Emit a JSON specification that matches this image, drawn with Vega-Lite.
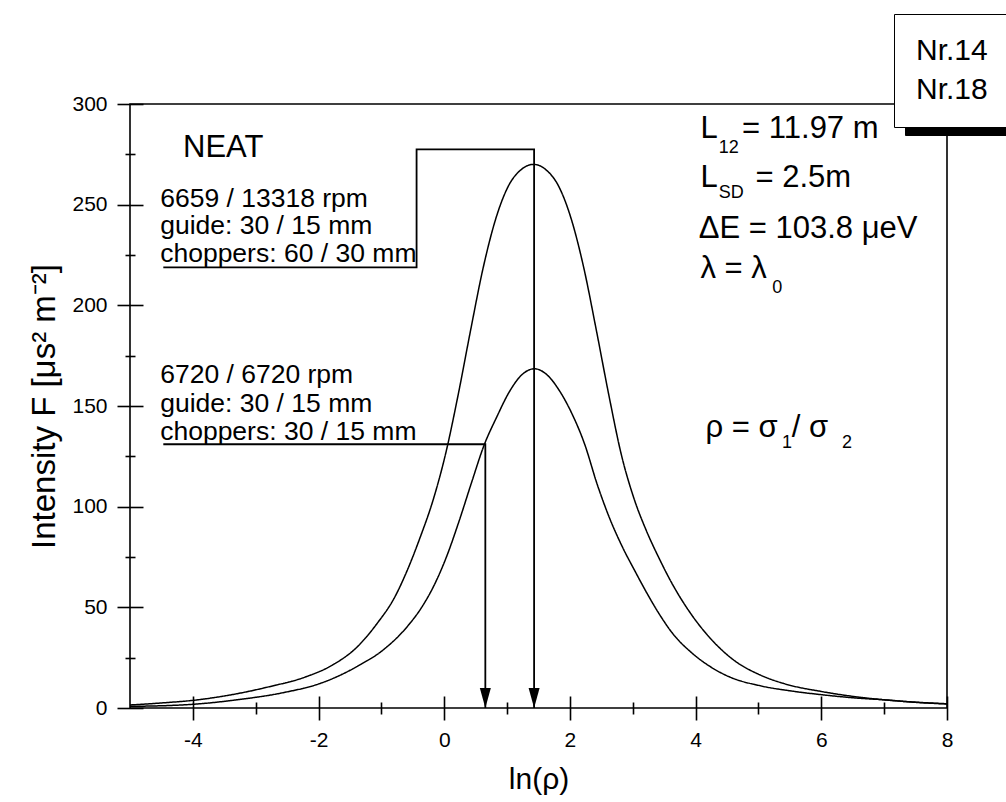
{
  "$schema": "https://vega.github.io/schema/vega-lite/v6.json",
  "width": 817,
  "height": 604,
  "autosize": {"type": "none"},
  "padding": {"left": 130, "top": 104, "right": 59, "bottom": 94},
  "background": "white",
  "config": {
    "view": {"stroke": "black", "strokeWidth": 1.6},
    "font": "Liberation Sans",
    "axis": {"grid": false, "labelFont": "Liberation Sans", "titleFont": "Liberation Sans", "labelColor": "black", "titleColor": "black", "tickColor": "black", "domainColor": "black", "titleFontWeight": "normal", "labelFontSize": 21}
  },
  "datasets": {
    "curves": [
      {"s": "Nr.14", "x": -5, "y": 1.5}, {"s": "Nr.14", "x": -4.5, "y": 2.5}, {"s": "Nr.14", "x": -3.94, "y": 4}, {"s": "Nr.14", "x": -3.4, "y": 6.5},
      {"s": "Nr.14", "x": -2.78, "y": 10.6}, {"s": "Nr.14", "x": -2.2, "y": 15.5}, {"s": "Nr.14", "x": -1.78, "y": 21.3}, {"s": "Nr.14", "x": -1.38, "y": 30.5},
      {"s": "Nr.14", "x": -1.08, "y": 41.5}, {"s": "Nr.14", "x": -0.78, "y": 55.5}, {"s": "Nr.14", "x": -0.58, "y": 69}, {"s": "Nr.14", "x": -0.38, "y": 85},
      {"s": "Nr.14", "x": -0.18, "y": 103}, {"s": "Nr.14", "x": 0.02, "y": 126}, {"s": "Nr.14", "x": 0.22, "y": 155.3}, {"s": "Nr.14", "x": 0.42, "y": 187.7},
      {"s": "Nr.14", "x": 0.62, "y": 218.7}, {"s": "Nr.14", "x": 0.82, "y": 243}, {"s": "Nr.14", "x": 1.02, "y": 259.2}, {"s": "Nr.14", "x": 1.22, "y": 267.3},
      {"s": "Nr.14", "x": 1.42, "y": 270}, {"s": "Nr.14", "x": 1.62, "y": 267.3}, {"s": "Nr.14", "x": 1.82, "y": 259.2}, {"s": "Nr.14", "x": 2.02, "y": 243},
      {"s": "Nr.14", "x": 2.22, "y": 218.7}, {"s": "Nr.14", "x": 2.42, "y": 187.7}, {"s": "Nr.14", "x": 2.62, "y": 155.3}, {"s": "Nr.14", "x": 2.82, "y": 125.6},
      {"s": "Nr.14", "x": 3.02, "y": 104}, {"s": "Nr.14", "x": 3.22, "y": 87.8}, {"s": "Nr.14", "x": 3.42, "y": 74.3}, {"s": "Nr.14", "x": 3.62, "y": 62.1},
      {"s": "Nr.14", "x": 3.92, "y": 47}, {"s": "Nr.14", "x": 4.22, "y": 35.1}, {"s": "Nr.14", "x": 4.62, "y": 23.5}, {"s": "Nr.14", "x": 5.02, "y": 16.5},
      {"s": "Nr.14", "x": 5.42, "y": 12}, {"s": "Nr.14", "x": 6.02, "y": 8.1}, {"s": "Nr.14", "x": 6.52, "y": 5.7}, {"s": "Nr.14", "x": 7.02, "y": 4},
      {"s": "Nr.14", "x": 7.5, "y": 2.9}, {"s": "Nr.14", "x": 8, "y": 2.1},
      {"s": "Nr.18", "x": -5, "y": 0.8}, {"s": "Nr.18", "x": -4.065, "y": 1.7}, {"s": "Nr.18", "x": -3.265, "y": 4.2}, {"s": "Nr.18", "x": -2.565, "y": 7.6},
      {"s": "Nr.18", "x": -1.965, "y": 12.3}, {"s": "Nr.18", "x": -1.365, "y": 21}, {"s": "Nr.18", "x": -0.965, "y": 29}, {"s": "Nr.18", "x": -0.565, "y": 41.3},
      {"s": "Nr.18", "x": -0.365, "y": 49.7}, {"s": "Nr.18", "x": -0.165, "y": 60.7}, {"s": "Nr.18", "x": 0.035, "y": 75}, {"s": "Nr.18", "x": 0.235, "y": 92.7},
      {"s": "Nr.18", "x": 0.435, "y": 112}, {"s": "Nr.18", "x": 0.635, "y": 130.6}, {"s": "Nr.18", "x": 0.835, "y": 144.5}, {"s": "Nr.18", "x": 1.035, "y": 157},
      {"s": "Nr.18", "x": 1.235, "y": 165.5}, {"s": "Nr.18", "x": 1.435, "y": 168.5}, {"s": "Nr.18", "x": 1.635, "y": 165.5}, {"s": "Nr.18", "x": 1.835, "y": 157.5},
      {"s": "Nr.18", "x": 2.035, "y": 146}, {"s": "Nr.18", "x": 2.235, "y": 131}, {"s": "Nr.18", "x": 2.435, "y": 111}, {"s": "Nr.18", "x": 2.635, "y": 94},
      {"s": "Nr.18", "x": 2.835, "y": 80}, {"s": "Nr.18", "x": 3.035, "y": 68}, {"s": "Nr.18", "x": 3.235, "y": 56.5}, {"s": "Nr.18", "x": 3.435, "y": 46},
      {"s": "Nr.18", "x": 3.635, "y": 37}, {"s": "Nr.18", "x": 3.935, "y": 27.5}, {"s": "Nr.18", "x": 4.235, "y": 20.5}, {"s": "Nr.18", "x": 4.535, "y": 15.5},
      {"s": "Nr.18", "x": 5.035, "y": 11}, {"s": "Nr.18", "x": 5.535, "y": 8.4}, {"s": "Nr.18", "x": 6.035, "y": 6.5}, {"s": "Nr.18", "x": 6.535, "y": 5},
      {"s": "Nr.18", "x": 7.035, "y": 4}, {"s": "Nr.18", "x": 7.5, "y": 2.8}, {"s": "Nr.18", "x": 8, "y": 2}
    ],
    "paths": [
      {"p": "a", "o": 1, "x": -4.47, "y": 218.9}, {"p": "a", "o": 2, "x": -0.44, "y": 218.9}, {"p": "a", "o": 3, "x": -0.44, "y": 277.5},
      {"p": "a", "o": 4, "x": 1.43, "y": 277.5}, {"p": "a", "o": 5, "x": 1.43, "y": 0},
      {"p": "b", "o": 1, "x": -4.47, "y": 131}, {"p": "b", "o": 2, "x": 0.654, "y": 131}, {"p": "b", "o": 3, "x": 0.654, "y": 0}
    ],
    "arrows": [{"x": 0.654, "y": 0}, {"x": 1.43, "y": 0}],
    "leftText": [
      {"t": "6659 / 13318 rpm", "x": -4.52, "y": 249.0},
      {"t": "guide: 30 / 15 mm", "x": -4.52, "y": 235.4},
      {"t": "choppers: 60 / 30 mm", "x": -4.52, "y": 221.7},
      {"t": "6720 / 6720 rpm", "x": -4.52, "y": 161.3},
      {"t": "guide: 30 / 15 mm", "x": -4.52, "y": 147.2},
      {"t": "choppers: 30 / 15 mm", "x": -4.52, "y": 133.1}
    ],
    "title": [{"t": "NEAT", "x": -4.156, "y": 273.8}],
    "rightText": [
      {"t": "L", "x": 4.076, "y": 283.0},
      {"t": "= 11.97 m", "x": 4.74, "y": 283.0},
      {"t": "L", "x": 4.076, "y": 258.9},
      {"t": "= 2.5m", "x": 4.952, "y": 258.9},
      {"t": "ΔE = 103.8 μeV", "x": 4.05, "y": 233.3},
      {"t": "λ = λ", "x": 4.076, "y": 213.4},
      {"t": "ρ = σ", "x": 4.156, "y": 134.8},
      {"t": "/ σ", "x": 5.53, "y": 134.8}
    ],
    "subText": [
      {"t": "12", "x": 4.368, "y": 275.5},
      {"t": "SD", "x": 4.368, "y": 253.2},
      {"t": "0", "x": 5.218, "y": 206.3},
      {"t": "1", "x": 5.375, "y": 129.0},
      {"t": "2", "x": 6.33, "y": 129.0}
    ]
  },
  "layer": [
    {
      "data": {"name": "arrows"},
      "mark": {"type": "point", "shape": "M-0.55,-1L0.55,-1L0,1Z", "filled": true, "opacity": 1, "size": 400, "yOffset": -10},
      "encoding": {
        "x": {"field": "x", "type": "quantitative", "scale": {"domain": [-5, 8], "nice": false, "zero": false}, "axis": null},
        "y": {"field": "y", "type": "quantitative", "scale": {"domain": [0, 300], "nice": false, "zero": false}, "axis": null},
        "color": {
          "datum": "Nr.14",
          "scale": {"range": ["black"]},
          "legend": {"orient": "none", "legendX": 775, "legendY": -83, "title": null, "fillColor": "black", "strokeColor": "black", "padding": 42, "labelFontSize": 30, "labelFont": "Liberation Sans", "labelColor": "black", "labelExpr": "''", "symbolOpacity": 0, "symbolSize": 900, "symbolStrokeWidth": 0, "labelOffset": 40}
        }
      }
    },
    {
      "data": {"name": "curves"},
      "mark": {"type": "line", "interpolate": "monotone", "strokeWidth": 1.5, "color": "black"},
      "encoding": {
        "x": {
          "field": "x", "type": "quantitative",
          "axis": {"orient": "bottom", "values": [-4, -2, 0, 2, 4, 6, 8], "offset": -12, "tickSize": 24, "tickWidth": 1.6, "domain": false, "labelPadding": 9, "labelFontSize": 21, "labelFlush": false, "labelExpr": "replace(datum.label, '−', '-')", "title": "ln(ρ)", "titleFontSize": 30, "titlePadding": 14}
        },
        "y": {
          "field": "y", "type": "quantitative",
          "axis": {"orient": "left", "values": [0, 50, 100, 150, 200, 250, 300], "offset": -13, "tickSize": 26, "tickWidth": 1.6, "domain": false, "labelPadding": 10, "labelFontSize": 21, "labelFlush": false, "title": "Intensity  F [μs²  m⁻²]", "titleFontSize": 33, "titlePadding": 10}
        },
        "strokeDash": {
          "field": "s", "type": "nominal",
          "scale": {"range": [[1, 0], [1, 0]]},
          "legend": {"orient": "none", "legendX": 764, "legendY": -90, "title": null, "fillColor": "white", "strokeColor": "black", "padding": 22, "labelFontSize": 30, "labelFont": "Liberation Sans", "labelColor": "black", "symbolOpacity": 0, "symbolSize": 1, "symbolStrokeWidth": 0, "labelOffset": -30, "rowPadding": 9}
        }
      }
    },
    {
      "data": {"name": "paths"},
      "mark": {"type": "line", "color": "black", "strokeWidth": 1.8},
      "encoding": {
        "x": {"field": "x", "type": "quantitative", "axis": {"orient": "bottom", "values": [-3, -1, 1, 3, 5, 7], "offset": -6, "tickSize": 12, "tickWidth": 1.6, "domain": false, "labels": false, "title": null}},
        "y": {"field": "y", "type": "quantitative", "axis": {"orient": "left", "values": [25, 75, 125, 175, 225, 275], "offset": -5, "tickSize": 10, "tickWidth": 1.6, "domain": false, "labels": false, "title": null}},
        "detail": {"field": "p"},
        "order": {"field": "o", "type": "quantitative"}
      }
    },
    {
      "data": {"name": "leftText"},
      "mark": {"type": "text", "align": "left", "baseline": "alphabetic", "fontSize": 26.5, "font": "Liberation Sans", "color": "black"},
      "encoding": {
        "x": {"field": "x", "type": "quantitative", "axis": null},
        "y": {"field": "y", "type": "quantitative", "axis": null},
        "text": {"field": "t"}
      }
    },
    {
      "data": {"name": "title"},
      "mark": {"type": "text", "align": "left", "baseline": "alphabetic", "fontSize": 31, "font": "Liberation Sans", "color": "black"},
      "encoding": {
        "x": {"field": "x", "type": "quantitative", "axis": null},
        "y": {"field": "y", "type": "quantitative", "axis": null},
        "text": {"field": "t"}
      }
    },
    {
      "data": {"name": "rightText"},
      "mark": {"type": "text", "align": "left", "baseline": "alphabetic", "fontSize": 31, "font": "Liberation Sans", "color": "black"},
      "encoding": {
        "x": {"field": "x", "type": "quantitative", "axis": null},
        "y": {"field": "y", "type": "quantitative", "axis": null},
        "text": {"field": "t"}
      }
    },
    {
      "data": {"name": "subText"},
      "mark": {"type": "text", "align": "left", "baseline": "alphabetic", "fontSize": 18, "font": "Liberation Sans", "color": "black"},
      "encoding": {
        "x": {"field": "x", "type": "quantitative", "axis": null},
        "y": {"field": "y", "type": "quantitative", "axis": null},
        "text": {"field": "t"}
      }
    }
  ],
  "resolve": {"axis": {"x": "independent", "y": "independent"}}
}
